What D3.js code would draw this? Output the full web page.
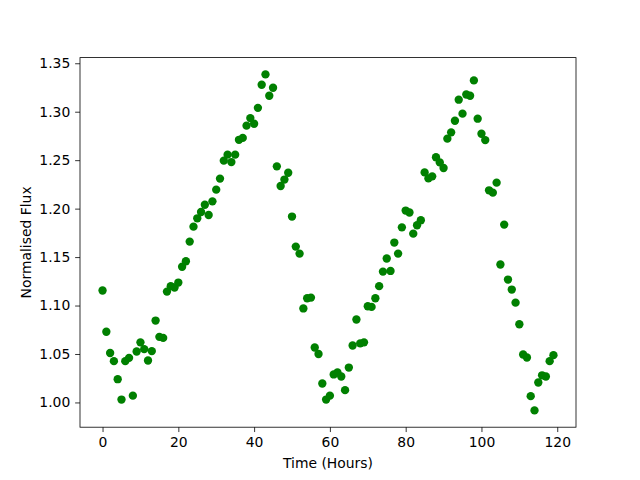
<!DOCTYPE html>
<html><head><meta charset="utf-8">
<script src="https://cdn.jsdelivr.net/npm/d3@7"></script>
<style>body{margin:0;background:#fff}svg{display:block}text{font-family:"DejaVu Sans",sans-serif}</style>
</head><body>
<script>
const hours = d3.range(0, 120);
const flux = [
1.1155,1.073,1.051,1.0426,1.024,1.003,1.0426,1.046,1.007,1.0526,
1.062,1.055,1.0433,1.053,1.0845,1.0677,1.0666,1.1144,1.120,1.1186,
1.1237,1.140,1.1457,1.166,1.1814,1.190,1.1965,1.204,1.1934,1.2075,
1.2196,1.231,1.2495,1.2557,1.248,1.2557,1.271,1.273,1.2856,1.2934,
1.2876,1.304,1.3278,1.3385,1.3165,1.3247,1.2436,1.2233,1.230,1.237,
1.1918,1.1608,1.1536,1.097,1.1075,1.1082,1.0567,1.050,1.0196,1.003,
1.007,1.0289,1.031,1.0268,1.0127,1.036,1.0588,1.0856,1.061,1.062,
1.0993,1.0986,1.1075,1.120,1.135,1.1485,1.1357,1.165,1.1536,1.1807,
1.198,1.196,1.1742,1.1828,1.188,1.2374,1.2312,1.2333,1.253,1.2477,
1.2419,1.2722,1.2787,1.2907,1.3124,1.298,1.3178,1.3165,1.3323,1.2928,
1.2773,1.2707,1.2189,1.2165,1.2268,1.1423,1.1835,1.1268,1.1165,1.103,
1.0807,1.0495,1.0464,1.0065,0.9918,1.0206,1.028,1.0268,1.0426,1.0488
];
const xTicks = [0,20,40,60,80,100,120];
const yTicks = [1.00,1.05,1.10,1.15,1.20,1.25,1.30,1.35];
const xLabel = "Time (Hours)";
const yLabel = "Normalised Flux";

const W=640,H=480, L=80,R=576,T=57.6,B=427.2;
const svg=d3.select("body").append("svg").attr("width",W).attr("height",H);
const pad=(e)=>{const r=e[1]-e[0];return [e[0]-0.05*r,e[1]+0.05*r];};
const x=d3.scaleLinear().domain(pad(d3.extent(hours))).range([L,R]);
const y=d3.scaleLinear().domain(pad(d3.extent(flux))).range([B,T]);

svg.append("g").selectAll("circle").data(hours).join("circle")
 .attr("cx",(d)=>x(d)).attr("cy",(d,i)=>y(flux[i])).attr("r",4.17).attr("fill","#008000");

const xa=svg.append("g").attr("transform",`translate(0,${B})`)
 .call(d3.axisBottom(x).tickValues(xTicks).tickFormat(d3.format("d")).tickSize(4.86).tickPadding(4.86));
const ya=svg.append("g").attr("transform",`translate(${L},0)`)
 .call(d3.axisLeft(y).tickValues(yTicks).tickFormat(d3.format(".2f")).tickSize(4.86).tickPadding(4.86));
[xa,ya].forEach(a=>{a.select(".domain").remove();a.selectAll("text").attr("font-size","13.9px").attr("fill","#000").attr("font-family","DejaVu Sans");a.selectAll("line").attr("stroke","#000").attr("stroke-width",0.8);});

svg.append("rect").attr("x",L).attr("y",T).attr("width",R-L).attr("height",B-T)
 .attr("fill","none").attr("stroke","#000").attr("stroke-width",0.8);

svg.append("text").attr("x",(L+R)/2).attr("y",468).attr("text-anchor","middle")
 .attr("font-size","13.9px").text(xLabel);
svg.append("text").attr("transform",`translate(31,${(T+B)/2}) rotate(-90)`).attr("text-anchor","middle")
 .attr("font-size","13.9px").text(yLabel);
</script>
</body></html>
